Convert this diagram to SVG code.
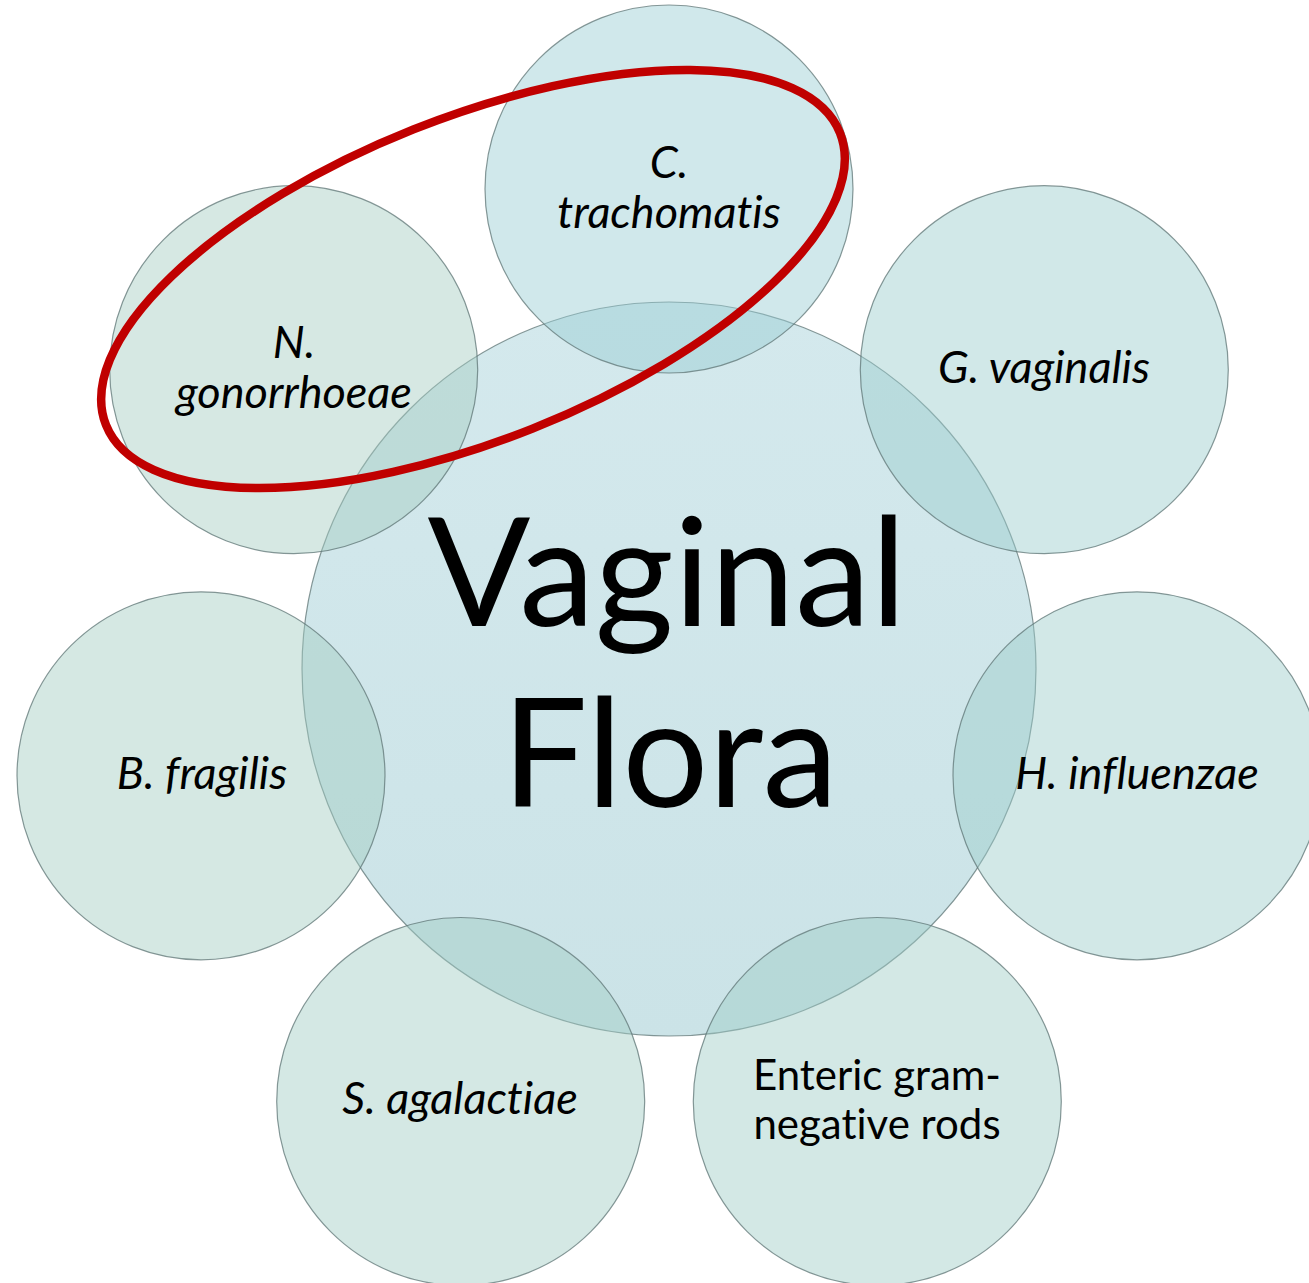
<svg xmlns="http://www.w3.org/2000/svg" width="1309" height="1283" viewBox="0 0 1309 1283">
  <style>
    .node circle { stroke: #5f7676; stroke-opacity: 0.75; stroke-width: 1.2; }
    .lbl { font-family: Lato, "Liberation Sans", sans-serif; font-size: 45px; font-style: italic; fill: #000; text-anchor: middle; font-variant-ligatures: none; font-feature-settings: "liga" 0; }
    .lbl.up { font-style: normal; font-size: 42px; }
    .big { font-family: Lato, "Liberation Sans", sans-serif; font-size: 152px; fill: #000; text-anchor: middle; }
    .ring { fill: none; stroke: #c00000; stroke-width: 8.5; }
  </style>
  <defs>
    <linearGradient id="gc" x1="0" y1="0" x2="0" y2="1">
      <stop offset="0" stop-color="#d4e9ed"/>
      <stop offset="1" stop-color="#cbe3e7"/>
    </linearGradient>
  </defs>
  <rect width="1309" height="1283" fill="#ffffff"/>
  <g id="node-center" class="node">
    <circle cx="669" cy="669" r="367" fill="url(#gc)"/>
    <text class="big" x="667" y="626">Vaginal</text>
    <text class="big" x="670" y="807">Flora</text>
  </g>
  <g id="node-c-trachomatis" class="node">
    <circle cx="669" cy="189" r="184" fill="rgb(150,203,210)" fill-opacity="0.45"/>
    <text class="lbl" x="669" y="178">C.</text>
    <text class="lbl" x="669" y="228">trachomatis</text>
  </g>
  <g id="node-g-vaginalis" class="node">
    <circle cx="1044.3" cy="369.7" r="184" fill="rgb(154,204,205)" fill-opacity="0.45"/>
    <text class="lbl" x="1044" y="383">G. vaginalis</text>
  </g>
  <g id="node-h-influenzae" class="node">
    <circle cx="1137" cy="775.8" r="184" fill="rgb(156,204,201)" fill-opacity="0.45"/>
    <text class="lbl" x="1137" y="789">H. influenzae</text>
  </g>
  <g id="node-enteric" class="node">
    <circle cx="877.3" cy="1101.5" r="184" fill="rgb(158,204,198)" fill-opacity="0.45"/>
    <text class="lbl up" x="877" y="1090">Enteric gram-</text>
    <text class="lbl up" x="877" y="1139">negative rods</text>
  </g>
  <g id="node-s-agalactiae" class="node">
    <circle cx="460.7" cy="1101.5" r="184" fill="rgb(160,204,195)" fill-opacity="0.45"/>
    <text class="lbl" x="460" y="1114">S. agalactiae</text>
  </g>
  <g id="node-b-fragilis" class="node">
    <circle cx="201" cy="775.8" r="184" fill="rgb(161,204,193)" fill-opacity="0.45"/>
    <text class="lbl" x="202" y="789">B. fragilis</text>
  </g>
  <g id="node-n-gonorrhoeae" class="node">
    <circle cx="293.7" cy="369.7" r="184" fill="rgb(163,204,192)" fill-opacity="0.45"/>
    <text class="lbl" x="294" y="358">N.</text>
    <text class="lbl" x="294" y="408">gonorrhoeae</text>
  </g>
  <g id="connectors"/>
  <g id="highlight">
    <ellipse class="ring" cx="473" cy="279" rx="395" ry="161" transform="rotate(-21.7 473 279)"/>
  </g>
</svg>
